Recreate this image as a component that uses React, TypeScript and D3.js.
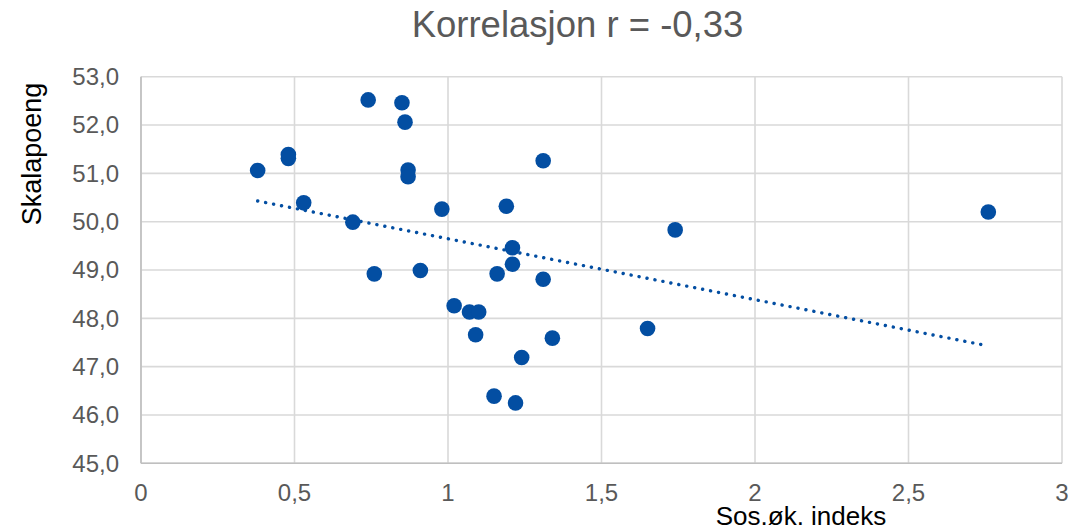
import React from "react";
import * as d3 from "d3";

const xValues = [0.38, 0.48, 0.48, 0.53, 0.69, 0.74, 0.85, 0.86, 0.87, 0.87, 0.98, 0.76, 0.91, 1.02, 1.07, 1.10, 1.09, 1.24, 1.15, 1.22, 1.16, 1.19, 1.31, 1.21, 1.21, 1.31, 1.34, 1.74, 1.65, 2.76];
const yValues = [51.06, 51.39, 51.31, 50.39, 49.99, 52.52, 52.46, 52.06, 51.07, 50.93, 50.26, 48.92, 48.99, 48.26, 48.13, 48.13, 47.66, 47.19, 46.39, 46.25, 48.92, 50.32, 51.26, 49.46, 49.12, 48.81, 47.59, 49.83, 47.79, 50.2];
const xTicks = [0, 0.5, 1, 1.5, 2, 2.5, 3];
const yTicks = [45, 46, 47, 48, 49, 50, 51, 52, 53];
const title = "Korrelasjon r = -0,33";
const xTitle = "Sos.øk. indeks";
const yTitle = "Skalapoeng";

const W = 1077;
const H = 530;
const FONT = "'Liberation Sans', Arial, sans-serif";
const DOT = "#034EA2";

export default function App() {
  const x = d3.scaleLinear().domain([0, 3]).range([141, 1062]);
  const y = d3.scaleLinear().domain([45, 53]).range([463.3, 76.7]);

  const n = xValues.length;
  const mx = d3.mean(xValues) as number;
  const my = d3.mean(yValues) as number;
  let sxy = 0, sxx = 0;
  for (let i = 0; i < n; i++) {
    sxy += (xValues[i] - mx) * (yValues[i] - my);
    sxx += (xValues[i] - mx) ** 2;
  }
  const slope = sxy / sxx;
  const icpt = my - slope * mx;
  const x0 = d3.min(xValues) as number;
  const x1 = d3.max(xValues) as number;
  const trend = d3.line<number>().x((d) => x(d)).y((d) => y(icpt + slope * d));

  const fmtX = (v: number) => String(v).replace(".", ",");
  const fmtY = (v: number) => v.toFixed(1).replace(".", ",");

  return (
    <svg width={W} height={H} style={{ position: "absolute", left: 0, top: 0, background: "#fff" }} fontFamily={FONT}>
      <rect width={W} height={H} fill="#fff" />
      {yTicks.map((t) => (
        <line key={"gy" + t} x1={x(0)} x2={x(3)} y1={y(t)} y2={y(t)} stroke="#d9d9d9" strokeWidth={1.6} />
      ))}
      {xTicks.map((t) => (
        <line key={"gx" + t} x1={x(t)} x2={x(t)} y1={y(45)} y2={y(53)} stroke="#d9d9d9" strokeWidth={1.6} />
      ))}
      <line x1={x(0)} x2={x(0)} y1={y(45)} y2={y(53)} stroke="#bfbfbf" strokeWidth={1.6} />
      <line x1={x(0)} x2={x(3)} y1={y(45)} y2={y(45)} stroke="#bfbfbf" strokeWidth={1.6} />
      {yTicks.map((t) => (
        <text key={"ty" + t} x={119} y={y(t)} dy="0.35em" textAnchor="end" fontSize={24} fill="#595959">
          {fmtY(t)}
        </text>
      ))}
      {xTicks.map((t) => (
        <text key={"tx" + t} x={x(t)} y={501} textAnchor="middle" fontSize={24} fill="#595959">
          {fmtX(t)}
        </text>
      ))}
      <path d={trend([x0, x1]) as string} fill="none" stroke={DOT} strokeWidth={3.4} strokeDasharray="0.1 8" strokeLinecap="round" />
      {xValues.map((v, i) => (
        <circle key={"p" + i} cx={x(v)} cy={y(yValues[i])} r={7.8} fill={DOT} />
      ))}
      <text x={577.5} y={37} textAnchor="middle" fontSize={36.5} fill="#595959">
        {title}
      </text>
      <text x={801} y={525} textAnchor="middle" fontSize={26} fill="#000">
        {xTitle}
      </text>
      <text transform={`translate(41,154) rotate(-90)`} textAnchor="middle" fontSize={27} fill="#000">
        {yTitle}
      </text>
    </svg>
  );
}
